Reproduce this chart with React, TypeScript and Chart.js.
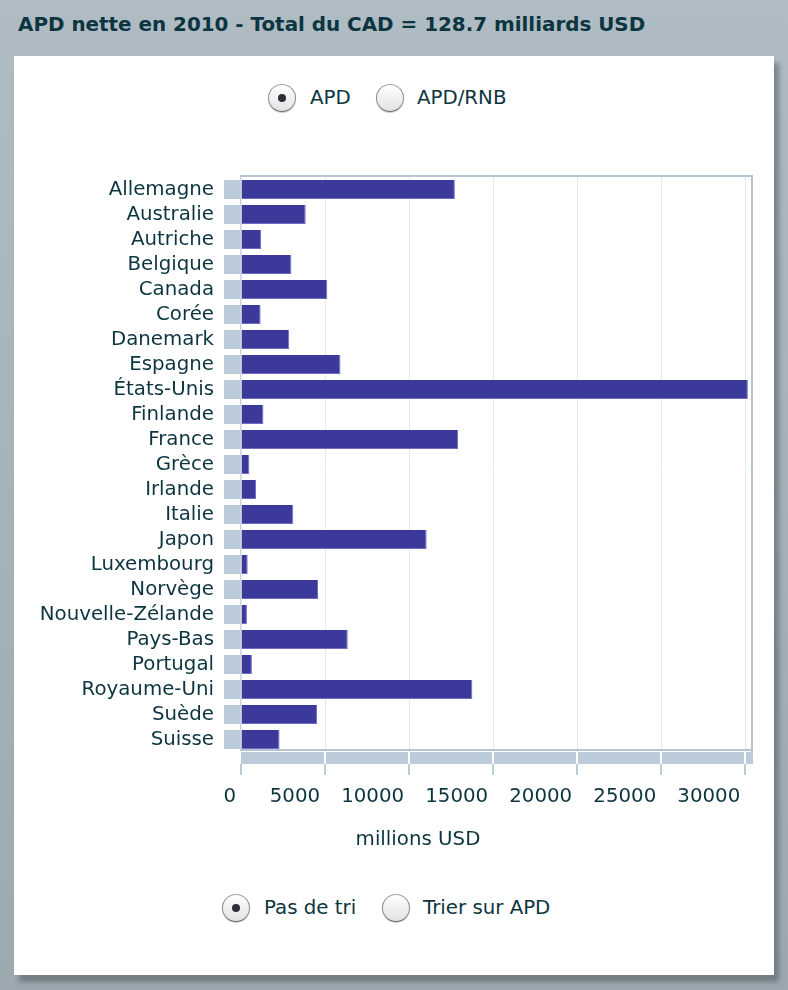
import React, { useEffect, useRef } from "react";
import { Chart, registerables } from "chart.js";

Chart.register(...registerables);

const titleText = "APD nette en 2010 - Total du CAD = 128.7 milliards USD";
const categories = [
  "Allemagne", "Australie", "Autriche", "Belgique", "Canada", "Corée",
  "Danemark", "Espagne", "États-Unis", "Finlande", "France", "Grèce",
  "Irlande", "Italie", "Japon", "Luxembourg", "Norvège", "Nouvelle-Zélande",
  "Pays-Bas", "Portugal", "Royaume-Uni", "Suède", "Suisse",
];
const apdValues = [
  12723, 3849, 1199, 3000, 5132, 1168,
  2867, 5917, 30154, 1335, 12916, 500,
  895, 3111, 11045, 399, 4582, 353,
  6351, 648, 13763, 4527, 2295,
];
const xTickValues = [0, 5000, 10000, 15000, 20000, 25000, 30000];
const xMin = 0;
const xMax = 30400;
const xAxisTitle = "millions USD";
const topOptions = ["APD", "APD/RNB"];
const bottomOptions = ["Pas de tri", "Trier sur APD"];

const TEXT = "#0d3540";
const BAND = "#bccbd9";
const FONT = "DejaVu Sans";
const FS = 19.8;

const zeroPadding = (s: any) => {
  s.paddingTop = 0;
  s.paddingBottom = 0;
  s.paddingLeft = 0;
  s.paddingRight = 0;
};

const decorPlugin = {
  id: "decor",
  beforeDatasetsDraw(chart: any) {
    const { ctx, chartArea: a } = chart;
    const meta = chart.getDatasetMeta(0);
    ctx.save();
    ctx.fillStyle = BAND;
    meta.data.forEach((bar: any) => {
      const p = bar.getProps(["y", "height"], true);
      ctx.fillRect(a.left - 17, p.y - p.height / 2, 16, p.height);
    });
    ctx.restore();
  },
  afterDatasetsDraw(chart: any) {
    const { ctx, chartArea: a, scales } = chart;
    const x = scales.x;
    const top = a.top - 2;
    const bottom = a.bottom - 1;
    ctx.save();
    ctx.fillStyle = "#c9d5df";
    ctx.fillRect(a.left - 1, top, 1, bottom - top);
    ctx.fillStyle = "#b6c5d2";
    ctx.fillRect(a.left - 1, top, a.right - a.left + 2, 2);
    ctx.fillRect(a.right - 1, top, 2, bottom - top + 1);
    ctx.fillRect(a.left - 1, bottom - 2, a.right - a.left + 2, 2);
    ctx.fillStyle = BAND;
    ctx.fillRect(a.left, a.bottom, a.right - a.left + 1, 12);
    x.ticks.forEach((t: any) => {
      const px = Math.round(x.getPixelForValue(t.value));
      ctx.fillStyle = "#ffffff";
      if (t.value !== xMin) ctx.fillRect(px - 1, a.bottom, 2, 12);
      ctx.fillStyle = BAND;
      ctx.fillRect(px - 1, a.bottom + 12, 2, 11);
    });
    ctx.restore();
  },
};

function Radio({ cx, cy, checked }: { cx: number; cy: number; checked: boolean }) {
  return (
    <div
      style={{
        position: "absolute",
        left: cx - 14,
        top: cy - 14,
        width: 28,
        height: 28,
        borderRadius: "50%",
        boxSizing: "border-box",
        border: "1px solid #8c8c8c",
        borderBottomColor: "#6a6a6a",
        borderTopColor: "#a8a8a8",
        background: "linear-gradient(#ffffff, #e2e2e2)",
        boxShadow: "0 1px 1px rgba(0,0,0,0.2)",
      }}
    >
      {checked && (
        <div
          style={{
            position: "absolute",
            left: 9,
            top: 9,
            width: 8,
            height: 8,
            borderRadius: "50%",
            background: "#2c3036",
          }}
        />
      )}
    </div>
  );
}

function Label({ left, top, text }: { left: number; top: number; text: string }) {
  return (
    <div style={{ position: "absolute", left, top, fontSize: FS, whiteSpace: "nowrap", color: TEXT }}>
      {text}
    </div>
  );
}

export default function App() {
  const canvasRef = useRef<HTMLCanvasElement>(null);

  useEffect(() => {
    if (!canvasRef.current) return;
    const chart = new Chart(canvasRef.current, {
      type: "bar",
      data: {
        labels: categories,
        datasets: [
          {
            data: apdValues,
            backgroundColor: "#3b3a9b",
            borderColor: "#6f6dc2",
            borderWidth: { top: 0, right: 1, bottom: 1, left: 0 } as any,
            borderSkipped: false as any,
            barPercentage: 0.76,
            categoryPercentage: 1,
          },
        ],
      },
      options: {
        indexAxis: "y",
        animation: false,
        responsive: false,
        devicePixelRatio: 1,
        layout: { padding: { top: 27, right: 22, bottom: 20, left: 0 } },
        plugins: { legend: { display: false }, tooltip: { enabled: false } },
        scales: {
          x: {
            type: "linear",
            position: "bottom",
            min: xMin,
            max: xMax,
            afterBuildTicks: (s: any) => {
              s.ticks = xTickValues.map((v) => ({ value: v }));
            },
            afterFit: (s: any) => {
              s.height = 58;
              zeroPadding(s);
            },
            grid: { color: "#e8e8e8", lineWidth: 1, drawTicks: false },
            border: { display: false },
            ticks: {
              align: "end",
              labelOffset: -5,
              padding: 33,
              color: TEXT,
              font: { family: FONT, size: FS },
              callback: (v: any) => String(v),
            },
          },
          y: {
            type: "category",
            afterFit: (s: any) => {
              s.width = 227;
              zeroPadding(s);
            },
            grid: { display: false, drawTicks: false },
            border: { display: false },
            ticks: {
              padding: 27,
              color: TEXT,
              font: { family: FONT, size: FS },
              autoSkip: false,
            },
          },
        },
      },
      plugins: [decorPlugin],
    } as any);
    return () => chart.destroy();
  }, []);

  return (
    <div
      style={{
        position: "fixed",
        left: 0,
        top: 0,
        width: 788,
        height: 990,
        overflow: "hidden",
        background: "linear-gradient(#afbcc4, #9da9b1)",
        fontFamily: FONT,
        color: TEXT,
      }}
    >
      <div
        style={{
          position: "absolute",
          left: 18,
          top: 13,
          fontSize: 19.9,
          fontWeight: "bold",
          whiteSpace: "nowrap",
          color: TEXT,
        }}
      >
        {titleText}
      </div>
      <div
        style={{
          position: "absolute",
          left: 14,
          top: 56,
          width: 760,
          height: 919,
          background: "#ffffff",
          boxShadow: "5px 7px 5px rgba(70,80,85,0.5)",
        }}
      >
        <Radio cx={268} cy={42} checked={true} />
        <Label left={296} top={30} text={topOptions[0]} />
        <Radio cx={376} cy={42} checked={false} />
        <Label left={403} top={30} text={topOptions[1]} />

        <canvas
          ref={canvasRef}
          width={760}
          height={680}
          style={{ position: "absolute", left: 0, top: 94, width: 760, height: 680 }}
        />

        <div
          style={{
            position: "absolute",
            left: 404 - 100,
            width: 200,
            top: 771,
            textAlign: "center",
            fontSize: FS,
            color: TEXT,
          }}
        >
          {xAxisTitle}
        </div>

        <Radio cx={222} cy={852} checked={true} />
        <Label left={250} top={840} text={bottomOptions[0]} />
        <Radio cx={382} cy={852} checked={false} />
        <Label left={409} top={840} text={bottomOptions[1]} />
      </div>
    </div>
  );
}
